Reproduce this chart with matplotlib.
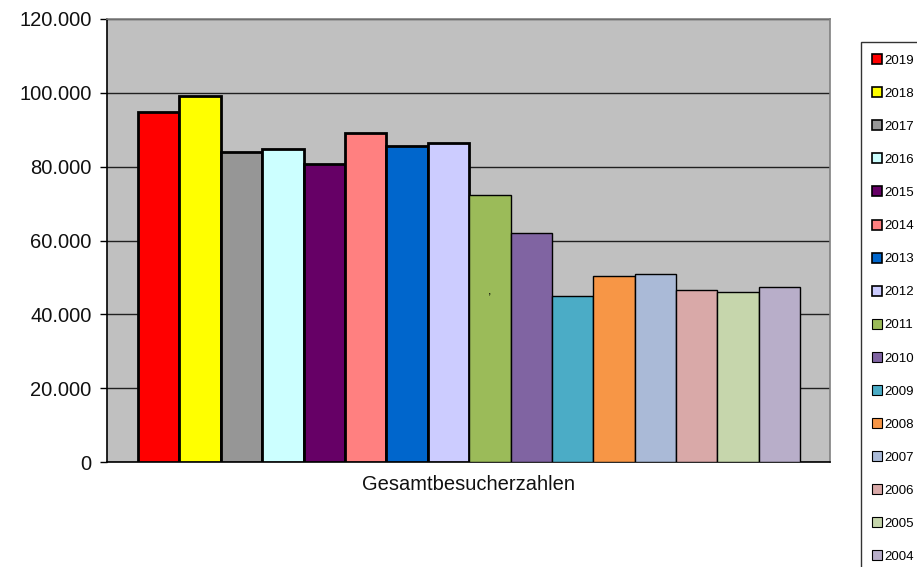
import matplotlib.pyplot as plt
from matplotlib.lines import Line2D
from matplotlib.ticker import FuncFormatter, MultipleLocator

plt.rcParams['font.family'] = ['Liberation Sans', 'DejaVu Sans']

# Besucherzahlen pro Jahr
jahre = ['2019', '2018', '2017', '2016', '2015', '2014', '2013', '2012',
         '2011', '2010', '2009', '2008', '2007', '2006', '2005', '2004']
besucher = [94800, 99100, 84000, 84800, 80700, 89100, 85600, 86400,
            72400, 62100, 45000, 50500, 50800, 46700, 46000, 47400]
farben = ['#FF0000', '#FFFF00', '#969696', '#CCFFFF', '#660066', '#FF8080',
          '#0066CC', '#CCCCFF', '#9BBB59', '#8064A2', '#4BACC6', '#F79646',
          '#AABAD7', '#D9A9A8', '#C6D6AC', '#B8AEC9']
kategorie = 'Gesamtbesucherzahlen'

fig = plt.figure(figsize=(9.17, 5.67), dpi=100)
ax = fig.add_axes([107 / 917, 105 / 567, 723 / 917, 443 / 567])
ax.set_facecolor('#C0C0C0')

for i, (j, v, c) in enumerate(zip(jahre, besucher, farben)):
    lw = 2.0 if i < 8 else 1.0
    ax.bar(i, v, width=1.0, color=c, edgecolor='black', linewidth=lw, zorder=3)

# das Komma im 2011er Balken
ax.text(8, 46300, ',', ha='center', va='center', fontsize=9, zorder=4)

ax.set_xlim(-1.25, 16.22)
ax.set_ylim(0, 120000)
ax.yaxis.set_major_locator(MultipleLocator(20000))
ax.yaxis.set_major_formatter(FuncFormatter(lambda v, p: f'{int(v):,}'.replace(',', '.')))
ax.grid(axis='y', color='#202020', linewidth=1.0, zorder=0)
ax.set_xticks([])
ax.tick_params(axis='y', direction='out', length=5, width=1, labelsize=14.5,
               labelcolor='#111111', pad=6)
ax.set_xlabel(kategorie, fontsize=14.5, color='#111111', labelpad=9)

for s in ['left', 'bottom']:
    ax.spines[s].set_color('black')
    ax.spines[s].set_linewidth(1.2)
for s in ['top', 'right']:
    ax.spines[s].set_color('#808080')
    ax.spines[s].set_linewidth(1.2)

handles = [Line2D([], [], linestyle='none', marker='s', markersize=6.5,
                  markerfacecolor=c, markeredgecolor='black',
                  markeredgewidth=1.2 if i < 8 else 0.8)
           for i, c in enumerate(farben)]
leg = fig.legend(handles, jahre, loc='upper left',
                 bbox_to_anchor=(861 / 917, 1 - 42 / 567),
                 fontsize=9.5, frameon=True, fancybox=False,
                 handlelength=0.6, handletextpad=0.2, labelspacing=1.58,
                 borderpad=0.95, borderaxespad=0)
leg.get_frame().set_edgecolor('black')
leg.get_frame().set_linewidth(1.0)

fig.savefig('out.png', dpi=100)
